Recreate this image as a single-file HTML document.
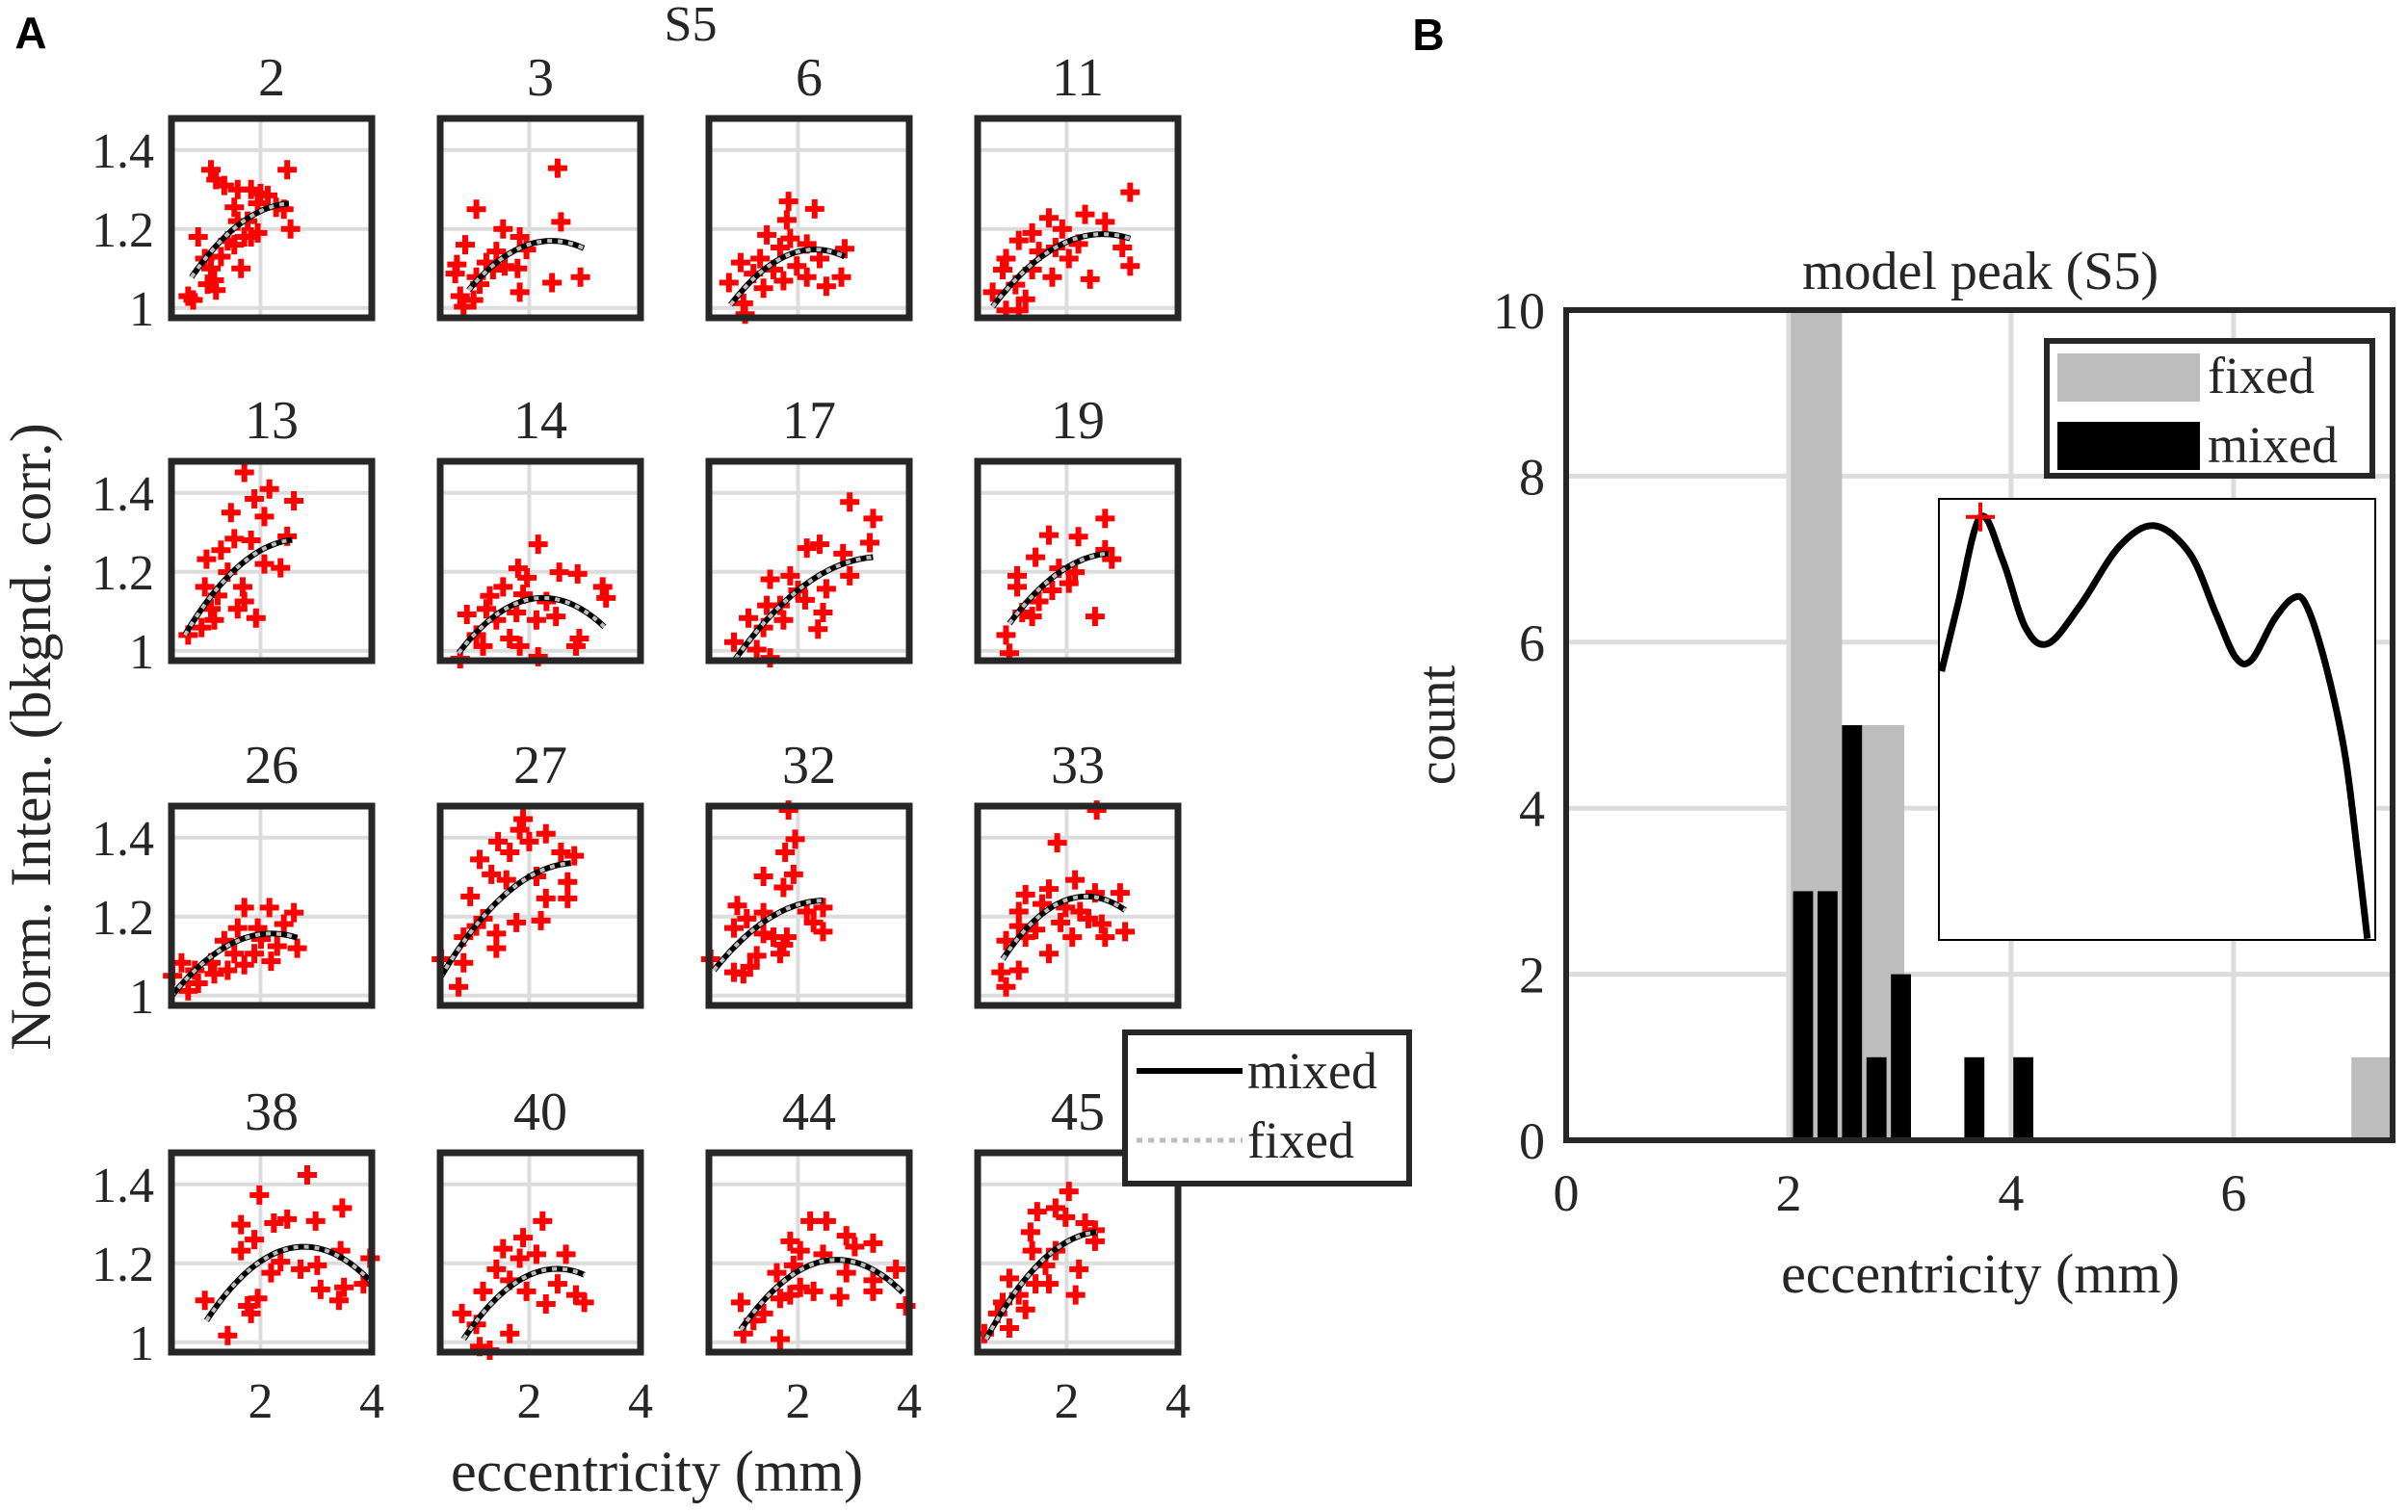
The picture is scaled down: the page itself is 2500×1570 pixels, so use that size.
<!DOCTYPE html>
<html><head><meta charset="utf-8"><style>
html,body{margin:0;padding:0;background:#fff;}
svg{display:block;}
text{font-family:"Liberation Serif",serif;fill:#262626;}
text.sans{font-family:"Liberation Sans",sans-serif;font-weight:bold;fill:#000;}
</style></head>
<body>
<svg id="fig" width="2500" height="1570" viewBox="0 0 2500 1570" xmlns="http://www.w3.org/2000/svg">
<rect width="2500" height="1570" fill="#fff"/>
<g id="panelA"></g>
<g id="panelB"></g>
</svg>
<script>
// ---------- Panel A data ----------
const panelIds = [2,3,6,11,13,14,17,19,26,27,32,33,38,40,44,45];
// fit params per panel: [xStart, xEnd, peakX, peakY, yStart]
const fitParams = [
[0.76,2.51,2.6,1.265,1.078],[0.91,2.98,2.4,1.17,1.045],[0.79,2.84,2.3,1.148,1.008],[0.67,3.14,2.65,1.187,1.003],
[0.64,2.57,2.7,1.282,1.04],[0.73,3.35,2.25,1.134,0.994],[0.88,3.35,3.5,1.238,0.98],[0.97,2.75,2.85,1.247,1.069],
[0.4,2.66,2.2,1.157,0.998],[0.4,2.75,2.85,1.336,1.045],[0.49,2.45,2.5,1.241,1.064],[0.85,3.05,2.35,1.251,1.092],
[1.03,3.97,2.78,1.242,1.055],[0.82,2.99,2.5,1.186,1.008],[0.97,3.88,2.7,1.209,1.031],[0.55,2.54,2.65,1.28,1.008]
];
const scatterPts = [
[[0.7,1.03],[0.79,1.02],[0.88,1.18],[1.11,1.35],[1.2,1.325],[1.35,1.31],[1.59,1.3],[1.83,1.3],[2.0,1.29],[1.95,1.265],[2.48,1.35],[2.54,1.2],[2.42,1.25],[1.65,1.1],[1.71,1.18],[1.53,1.16],[1.83,1.18],[1.41,1.17],[1.29,1.13],[1.11,1.1],[1.17,1.07],[1.05,1.06],[1.2,1.045],[1.53,1.255],[2.13,1.285],[2.28,1.255],[1.59,1.22],[1.95,1.19],[1.0,1.125],[1.77,1.22]],
[[2.51,1.354],[1.05,1.25],[2.57,1.218],[1.53,1.2],[1.83,1.18],[0.85,1.16],[0.7,1.11],[0.67,1.087],[0.76,1.03],[0.82,1.003],[1.0,1.02],[1.11,1.06],[1.35,1.097],[1.41,1.143],[1.56,1.106],[1.79,1.1],[1.83,1.04],[2.41,1.064],[2.92,1.078],[1.23,1.115],[1.05,1.078],[1.95,1.148]],
[[1.83,1.27],[2.3,1.251],[1.8,1.223],[1.44,1.185],[1.86,1.176],[2.16,1.162],[2.84,1.15],[0.97,1.115],[1.32,1.125],[0.76,1.064],[1.2,1.087],[1.56,1.097],[1.74,1.069],[2.16,1.078],[2.51,1.055],[2.78,1.078],[1.05,0.984],[1.02,1.012],[1.38,1.05],[1.98,1.106],[2.39,1.125],[1.68,1.153]],
[[3.14,1.293],[3.14,1.106],[2.42,1.073],[2.33,1.237],[2.69,1.218],[1.68,1.228],[1.38,1.19],[1.92,1.2],[1.14,1.171],[0.91,1.125],[0.85,1.097],[0.67,1.04],[0.91,0.994],[1.14,0.994],[1.26,1.022],[1.38,1.097],[1.74,1.078],[2.04,1.125],[2.21,1.162],[3.0,1.153],[1.5,1.143],[1.08,1.059],[1.8,1.153]],
[[1.71,1.452],[2.16,1.41],[1.47,1.35],[1.89,1.385],[2.6,1.38],[2.07,1.34],[1.53,1.284],[1.83,1.28],[2.48,1.29],[1.03,1.232],[2.07,1.22],[2.36,1.21],[1.0,1.162],[1.23,1.14],[1.68,1.162],[1.71,1.125],[1.59,1.106],[1.92,1.083],[1.17,1.078],[0.94,1.059],[0.7,1.04],[1.11,1.106],[1.41,1.199],[1.29,1.255]],
[[2.16,1.27],[1.8,1.209],[2.54,1.199],[2.87,1.195],[3.32,1.162],[3.38,1.134],[0.88,1.092],[1.29,1.139],[1.53,1.162],[1.89,1.143],[2.31,1.125],[2.48,1.087],[2.13,1.078],[1.77,1.097],[1.41,1.078],[1.05,1.04],[1.17,1.012],[1.65,1.031],[1.83,1.012],[2.16,0.985],[2.9,1.031],[2.84,1.012],[0.76,0.98],[1.23,1.106],[1.96,1.185]],
[[2.93,1.377],[3.35,1.335],[3.29,1.274],[2.39,1.27],[2.16,1.26],[2.81,1.246],[2.93,1.19],[2.51,1.157],[1.86,1.19],[1.5,1.181],[1.68,1.115],[2.45,1.097],[2.36,1.055],[2.13,1.129],[1.11,1.083],[1.38,1.059],[0.85,1.022],[1.5,0.982],[1.26,1.003],[2.0,1.153],[1.74,1.078],[1.44,1.115]],
[[2.69,1.335],[1.68,1.293],[2.21,1.289],[2.69,1.256],[2.81,1.232],[1.44,1.237],[1.11,1.19],[1.11,1.162],[1.86,1.209],[2.04,1.171],[1.5,1.125],[1.38,1.087],[2.51,1.087],[0.91,1.04],[0.97,0.994],[1.2,1.097],[1.74,1.153],[2.15,1.199]],
[[0.42,1.05],[0.7,1.012],[0.88,1.031],[1.11,1.083],[1.35,1.139],[1.71,1.223],[2.16,1.223],[2.6,1.21],[2.42,1.181],[1.59,1.171],[1.95,1.171],[2.19,1.087],[2.66,1.12],[1.71,1.078],[1.41,1.064],[1.17,1.055],[0.82,1.064],[0.58,1.083],[1.89,1.106],[2.3,1.125],[2.01,1.143],[1.53,1.106]],
[[1.89,1.447],[1.83,1.42],[2.3,1.41],[1.44,1.39],[1.65,1.363],[2.0,1.39],[2.81,1.354],[1.11,1.345],[2.57,1.363],[2.69,1.288],[2.3,1.246],[2.69,1.246],[2.13,1.302],[0.94,1.251],[1.32,1.307],[2.21,1.19],[1.77,1.185],[1.05,1.176],[0.82,1.148],[1.41,1.157],[1.41,1.12],[0.82,1.083],[0.42,1.092],[0.73,1.022],[1.17,1.195],[1.59,1.293]],
[[1.83,1.47],[1.95,1.396],[1.77,1.363],[1.38,1.302],[1.92,1.307],[1.74,1.274],[0.91,1.228],[1.08,1.195],[1.38,1.21],[2.16,1.213],[2.45,1.223],[0.85,1.171],[1.38,1.157],[2.28,1.185],[2.45,1.162],[1.56,1.148],[1.74,1.129],[1.68,1.106],[1.26,1.101],[1.14,1.073],[0.85,1.059],[1.02,1.055],[0.43,1.092],[1.8,1.148]],
[[2.54,1.47],[1.83,1.387],[2.15,1.293],[1.26,1.256],[1.68,1.27],[2.51,1.26],[2.96,1.26],[1.14,1.213],[1.56,1.232],[1.98,1.223],[2.24,1.213],[2.39,1.195],[1.14,1.176],[0.91,1.139],[1.26,1.148],[1.68,1.106],[2.1,1.148],[2.63,1.181],[2.69,1.148],[3.05,1.162],[1.14,1.064],[0.82,1.059],[0.91,1.022],[1.44,1.167],[1.89,1.185]],
[[2.84,1.424],[1.98,1.373],[3.47,1.34],[1.65,1.298],[2.48,1.312],[2.24,1.302],[2.99,1.307],[1.89,1.26],[1.65,1.232],[2.36,1.204],[3.02,1.195],[3.44,1.232],[3.97,1.213],[1.0,1.106],[1.41,1.017],[1.77,1.092],[1.95,1.111],[2.19,1.176],[2.72,1.185],[3.08,1.134],[3.41,1.106],[3.5,1.139],[3.85,1.148],[1.83,1.073]],
[[2.24,1.307],[1.89,1.265],[1.53,1.237],[1.83,1.213],[2.66,1.223],[1.41,1.185],[1.17,1.129],[1.95,1.129],[2.51,1.148],[2.84,1.12],[2.99,1.101],[2.3,1.097],[0.79,1.073],[1.05,1.045],[1.65,1.022],[1.11,0.989],[1.29,0.98],[2.13,1.223],[1.65,1.157]],
[[2.22,1.307],[2.51,1.307],[2.87,1.27],[3.02,1.242],[3.35,1.251],[1.86,1.256],[2.04,1.232],[2.45,1.223],[1.92,1.195],[1.62,1.176],[3.76,1.185],[3.35,1.157],[2.87,1.176],[2.28,1.129],[2.04,1.139],[2.75,1.115],[3.35,1.129],[3.94,1.092],[0.97,1.101],[1.2,1.055],[1.02,1.022],[1.68,1.008],[1.68,1.111],[1.38,1.073],[1.86,1.12]],
[[2.04,1.382],[1.8,1.34],[1.47,1.331],[1.98,1.317],[2.33,1.302],[2.51,1.284],[2.51,1.256],[1.35,1.279],[1.38,1.232],[1.8,1.232],[2.22,1.185],[2.16,1.12],[1.68,1.148],[0.97,1.162],[1.14,1.12],[1.44,1.148],[1.26,1.083],[0.85,1.101],[0.76,1.073],[0.97,1.036],[0.52,1.022],[1.62,1.195]]
];
const aYTicks = [1, 1.2, 1.4];
const aYTickLabels = ["1", "1.2", "1.4"];
const aXTicks = [2, 4];
const aXTickLabels = ["2", "4"];

// ---------- Panel B data ----------
const fixedLeft = [2.02, 2.48, 7.06];
const fixedRight = [2.48, 3.04, 7.5];
const fixedCounts = [10, 5, 1];
const mixedCenters = [2.13, 2.35, 2.57, 2.79, 3.01, 3.67, 4.11];
const mixedCounts = [3, 3, 5, 1, 2, 1, 1];
const mixedWidth = 0.18;
const bXTicks = [0, 2, 4, 6];
const bXTickLabels = ["0", "2", "4", "6"];
const bYTicks = [0, 2, 4, 6, 8, 10];
const bYTickLabels = ["0", "2", "4", "6", "8", "10"];
const insetX = [0.006,0.043,0.095,0.147,0.198,0.25,0.324,0.413,0.494,0.575,0.634,0.679,0.716,0.768,0.812,0.842,0.886,0.93,0.96,0.982];
const insetY = [0.609,0.759,0.959,0.859,0.709,0.672,0.759,0.892,0.939,0.876,0.742,0.642,0.634,0.726,0.775,0.759,0.625,0.424,0.19,0.003];
const insetPeakIndex = 2;

const NS = "http://www.w3.org/2000/svg";
function mk(tag, attrs, parent){ const e=document.createElementNS(NS,tag); for(const k in attrs) e.setAttribute(k,attrs[k]); if(parent) parent.appendChild(e); return e; }
function txt(parent, x, y, s, size, anchor, extra){ const t=mk("text",Object.assign({x:x,y:y,"font-size":size,"text-anchor":anchor||"middle"},extra||{}),parent); t.textContent=s; return t; }

// ---------- Panel A ----------
const gA = document.getElementById("panelA");
const colL = [178,457,736,1015], rowT = [123,479,837,1197], PW=208, PH=207;
const xMin=0.4, xMax=4, yMin=0.975, yMax=1.48;

let t;
t = txt(gA, 32, 50, "A", 46, "middle", {"class":"sans"});
 
t = txt(gA, 717, 42, "S5", 52);
 
t = txt(gA, 682, 1548, "eccentricity (mm)", 60);
 
t = txt(gA, 0, 0, "Norm. Inten. (bkgnd. corr.)", 60, "middle", {transform:"translate(52,765) rotate(-90)"});
 

panelIds.forEach((id, i) => {
  const r = Math.floor(i/4), c = i%4;
  const L=colL[c], T=rowT[r];
  const X = v => L + (v-xMin)/(xMax-xMin)*PW;
  const Y = v => T + PH - (v-yMin)/(yMax-yMin)*PH;
  const g = mk("g",{},gA);
  
  
  mk("rect",{x:L,y:T,width:PW,height:PH,fill:"#fff"},g);
  aXTicks.forEach(v=>{ const l=mk("line",{x1:X(v),x2:X(v),y1:T,y2:T+PH,stroke:"#dcdcdc","stroke-width":4},g);
      });
  aYTicks.forEach(v=>{ const l=mk("line",{x1:L,x2:L+PW,y1:Y(v),y2:Y(v),stroke:"#dcdcdc","stroke-width":4},g);
      });
  scatterPts[i].forEach(p=>{
    const px=X(p[0]), py=Y(p[1]);
    const m=mk("path",{d:`M${px-10},${py}H${px+10}M${px},${py-10}V${py+10}`,stroke:"#ff0000","stroke-width":6,fill:"none"},g);
     
  });
  const f = fitParams[i];
  const k = (f[3]-f[4])/Math.pow(f[0]-f[2],2);
  let d="";
  for(let s=0;s<=40;s++){ const xv=f[0]+(f[1]-f[0])*s/40; const yv=f[3]-k*(xv-f[2])*(xv-f[2]); d+=(s?"L":"M")+X(xv).toFixed(1)+","+Y(yv).toFixed(1); }
  const ml=mk("path",{d:d,stroke:"#000","stroke-width":6,fill:"none"},g);
   
  const fl=mk("path",{d:d,stroke:"#bdbdbd","stroke-width":4,fill:"none","stroke-dasharray":"5 6"},g);
   
  const b=mk("rect",{x:L,y:T,width:PW,height:PH,fill:"none",stroke:"#262626","stroke-width":7},g);
   
  const tt=txt(g, L+PW/2, T-24, String(id), 56);
   
  if(c===0){ aYTicks.forEach((v,j)=>{ const tl=txt(g, L-18, Y(v)+18, aYTickLabels[j], 52, "end");
      }); }
  if(r===3){ aXTicks.forEach((v,j)=>{ const tl=txt(g, X(v), T+PH+68, aXTickLabels[j], 52);
      }); }
});
const lgA = mk("g",{},gA);
 
mk("rect",{x:1168,y:1072,width:295,height:157,fill:"#fff",stroke:"#262626","stroke-width":6},lgA);
const le1=mk("line",{x1:1180,x2:1290,y1:1112,y2:1112,stroke:"#000","stroke-width":6},lgA);
 
t=txt(lgA,1295,1130,"mixed",54,"start");  
const le2=mk("line",{x1:1180,x2:1290,y1:1184,y2:1184,stroke:"#bdbdbd","stroke-width":5,"stroke-dasharray":"6 6"},lgA);
 
t=txt(lgA,1295,1202,"fixed",54,"start");  

// ---------- Panel B ----------
const gB = document.getElementById("panelB");
const BL=1626, BR=2484, BT=322, BB=1184, bxMax=7.43, byMax=10;
const BX = v => BL + v/bxMax*(BR-BL);
const BY = v => BB - v/byMax*(BB-BT);
t = txt(gB, 1483, 52, "B", 46, "middle", {"class":"sans"});
 
t = txt(gB, 2056, 300, "model peak (S5)", 56);  
t = txt(gB, 2056, 1342, "eccentricity (mm)", 58);  
t = txt(gB, 0, 0, "count", 56, "middle", {transform:"translate(1510,753) rotate(-90)"});  
bXTicks.forEach((v,j)=>{ if(v>0){ const l=mk("line",{x1:BX(v),x2:BX(v),y1:BT,y2:BB,stroke:"#dcdcdc","stroke-width":5},gB);
    }
  const tl=txt(gB,BX(v),BB+73,bXTickLabels[j],54);   });
bYTicks.forEach((v,j)=>{ if(v>0&&v<10){ const l=mk("line",{x1:BL,x2:BR,y1:BY(v),y2:BY(v),stroke:"#dcdcdc","stroke-width":5},gB);
    }
  const tl=txt(gB,BL-22,BY(v)+19,bYTickLabels[j],54,"end");   });
fixedCounts.forEach((n,j)=>{ const x1=BX(fixedLeft[j]), x2=Math.min(BX(fixedRight[j]),BR);
  const b=mk("rect",{x:x1,y:BY(n),width:x2-x1,height:BB-BY(n),fill:"#bdbdbd"},gB);
    });
mixedCounts.forEach((n,j)=>{ const x1=BX(mixedCenters[j]-mixedWidth/2), x2=BX(mixedCenters[j]+mixedWidth/2);
  const b=mk("rect",{x:x1,y:BY(n),width:x2-x1,height:BB-BY(n),fill:"#000"},gB);
    });
const fb=mk("rect",{x:BL,y:BT,width:BR-BL,height:BB-BT,fill:"none",stroke:"#262626","stroke-width":6},gB);
 
const lgB = mk("g",{},gB);
 
mk("rect",{x:2125,y:354,width:338,height:140,fill:"#fff",stroke:"#262626","stroke-width":6},lgB);
const p1=mk("rect",{x:2136,y:367,width:148,height:50,fill:"#bdbdbd"},lgB);  
t=txt(lgB,2292,408,"fixed",54,"start");  
const p2=mk("rect",{x:2136,y:438,width:148,height:50,fill:"#000"},lgB);  
t=txt(lgB,2292,480,"mixed",54,"start");  
const IL=2013, IT=518, IW=453, IH=458;
const ig = mk("g",{},gB);  
mk("rect",{x:IL,y:IT,width:IW,height:IH,fill:"#fff",stroke:"#000","stroke-width":2},ig);
const IX=v=>IL+v*IW, IY=v=>IT+IH-v*IH;
let pts=insetX.map((x,j)=>[IX(x),IY(insetY[j])]);
let d="M"+pts[0][0]+","+pts[0][1];
for(let j=0;j<pts.length-1;j++){ const p0=pts[Math.max(j-1,0)],p1=pts[j],p2=pts[j+1],p3=pts[Math.min(j+2,pts.length-1)];
  const c1=[p1[0]+(p2[0]-p0[0])/6,p1[1]+(p2[1]-p0[1])/6], c2=[p2[0]-(p3[0]-p1[0])/6,p2[1]-(p3[1]-p1[1])/6];
  d+=`C${c1[0].toFixed(1)},${c1[1].toFixed(1)} ${c2[0].toFixed(1)},${c2[1].toFixed(1)} ${p2[0].toFixed(1)},${p2[1].toFixed(1)}`; }
const ic=mk("path",{d:d,stroke:"#000","stroke-width":7,fill:"none","stroke-linejoin":"round"},ig);
 
const pk=pts[insetPeakIndex];
const pm=mk("path",{d:`M${pk[0]-15},${pk[1]}H${pk[0]+15}M${pk[0]},${pk[1]-15}V${pk[1]+15}`,stroke:"#ff0000","stroke-width":4,fill:"none"},ig);
 
</script>
</body></html>
